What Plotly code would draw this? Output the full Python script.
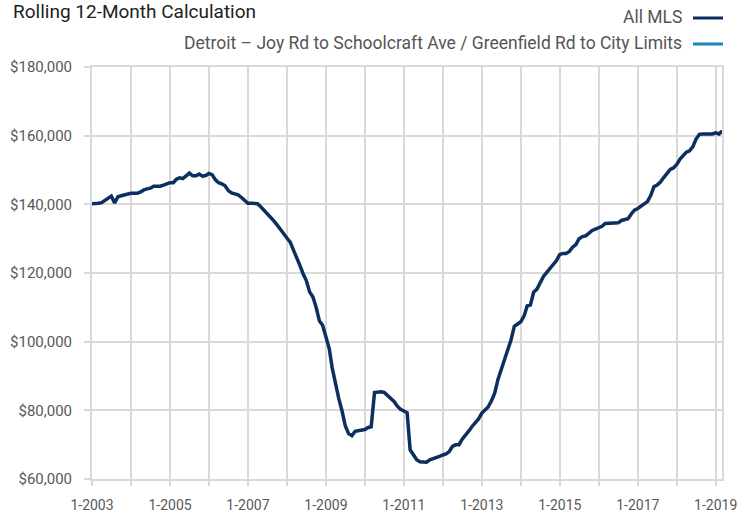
import plotly.graph_objects as go
import pandas as pd

# ---- data ----
months = pd.date_range("2003-01-01", "2019-03-01", freq="MS")
all_mls = [
    140200, 140200, 140300, 140500, 141200, 141800, 142400, 140400, 142200, 142500, 142800, 143100,  # 2003
    143200, 143200, 143200, 143600, 144200, 144500, 144700, 145300, 145300, 145300, 145600, 146000,  # 2004
    146300, 146300, 147300, 147700, 147500, 148300, 149100, 148300, 148300, 148800, 148200, 148400,  # 2005
    149000, 148600, 147200, 146300, 146000, 145400, 144000, 143300, 143100, 142800, 142000, 141200,  # 2006
    140300, 140300, 140300, 140200, 139300, 138300, 137200, 136300, 135200, 134000, 132900, 131500,  # 2007
    130200, 129000, 126800, 124700, 122300, 119800, 117800, 114500, 113000, 110000, 106000, 104800,  # 2008
    101000, 98000, 92300, 87200, 83500, 79800, 75500, 73200, 72600, 73900, 74000, 74300,             # 2009
    74400, 75000, 75200, 85200, 85400, 85400, 85200, 84300, 83400, 82600, 81200, 80300,              # 2010
    79800, 79300, 68500, 67200, 65600, 65000, 64900, 64900, 65600, 65900, 66100, 66600,              # 2011
    67000, 67300, 68000, 69500, 70000, 70000, 71600, 72700, 74000, 75300, 76300, 77500,              # 2012
    79200, 80000, 81000, 82800, 85000, 89000, 91800, 94800, 97800, 100500, 104500, 105300,           # 2013
    105800, 107500, 110400, 110700, 114400, 115300, 117000, 119000, 120200, 121200, 122400, 123600,  # 2014
    125400, 125700, 125700, 126300, 127500, 128300, 130000, 130600, 130800, 131600, 132400, 132800,  # 2015
    133200, 133600, 134400, 134500, 134500, 134500, 134600, 135300, 135600, 135800, 137200, 138300,  # 2016
    138800, 139500, 140400, 140800, 142500, 145100, 145600, 146500, 147800, 149000, 150200, 150600,  # 2017
    151600, 153200, 154300, 155200, 155600, 156800, 159000, 160400, 160500, 160500, 160500, 160500,  # 2018
    160800, 160500, 161400,                                                                          # 2019
]
tick_vals = ["2003-01-01", "2005-01-01", "2007-01-01", "2009-01-01", "2011-01-01",
             "2013-01-01", "2015-01-01", "2017-01-01", "2019-01-01"]
tick_text = ["1-2003", "1-2005", "1-2007", "1-2009", "1-2011",
             "1-2013", "1-2015", "1-2017", "1-2019"]
y_ticks = [60000, 80000, 100000, 120000, 140000, 160000, 180000]
y_tick_text = ["$60,000", "$80,000", "$100,000", "$120,000", "$140,000", "$160,000", "$180,000"]
series_names = ["All MLS", "Detroit \u2013 Joy Rd to Schoolcraft Ave / Greenfield Rd to City Limits"]
series_colors = ["#0b2f5f", "#1a87bf"]
title_text = "Rolling 12-Month Calculation"

# ---- geometry ----
W, H = 755, 515
L, R, T, B = 92, 33, 67, 36
PW, PH = W - L - R, H - T - B
FONT = "Roboto, Liberation Sans, Arial, sans-serif"
GRID = "#d9d9d9"


def px_x(x):
    return (x - L) / PW


def px_y(y):
    return (H - B - y) / PH


fig = go.Figure()
fig.add_trace(go.Scatter(
    x=months, y=all_mls, mode="lines", name=series_names[0],
    line=dict(color=series_colors[0], width=3.5),
    hoverinfo="x+y",
))

annotations = [
    dict(text=title_text, xref="paper", yref="paper", x=px_x(11), y=px_y(12),
         xanchor="left", yanchor="middle", showarrow=False,
         font=dict(size=19, color="#222222", family=FONT)),
]
shapes = []
legend_y = [17, 43]
for name, color, ly in zip(series_names, series_colors, legend_y):
    annotations.append(dict(text=name, xref="paper", yref="paper", x=px_x(684), y=px_y(ly),
                            xanchor="right", yanchor="middle", showarrow=False,
                            font=dict(size=17.5, color="#555555", family=FONT)))
    shapes.append(dict(type="line", xref="paper", yref="paper",
                       x0=px_x(693), x1=px_x(723), y0=px_y(ly + 1), y1=px_y(ly + 1),
                       line=dict(color=color, width=3)))

fig.update_layout(
    width=W, height=H,
    margin=dict(l=L, r=R, t=T, b=B, autoexpand=False),
    paper_bgcolor="white", plot_bgcolor="white",
    showlegend=False,
    font=dict(family=FONT, size=14, color="#595959"),
    annotations=annotations, shapes=shapes,
)
fig.update_xaxes(
    type="date", range=[months[0], months[-1]],
    tickvals=tick_vals, ticktext=tick_text,
    ticks="outside", ticklen=5, tickcolor=GRID, tickwidth=2,
    ticklabelstandoff=7, automargin=False,
    showgrid=True, gridcolor=GRID, gridwidth=2,
    minor=dict(dtick="M12", tick0="2003-01-01", showgrid=True, gridcolor=GRID, gridwidth=2,
               ticks="outside", ticklen=5, tickcolor=GRID, tickwidth=2),
    showline=True, linecolor=GRID, linewidth=2, mirror=True,
    zeroline=False,
    tickfont=dict(size=14, color="#595959", family=FONT),
)
fig.update_yaxes(
    range=[60000, 180000], tickvals=y_ticks, ticktext=y_tick_text,
    ticks="outside", ticklen=6, tickcolor=GRID, tickwidth=2,
    ticklabelstandoff=9, automargin=False,
    showgrid=True, gridcolor=GRID, gridwidth=2,
    showline=True, linecolor=GRID, linewidth=2, mirror=True,
    zeroline=False,
    tickfont=dict(size=15, color="#595959", family=FONT),
)

fig.write_html("out.html", config={"displayModeBar": False},
               post_script="document.body.style.margin='0';")
